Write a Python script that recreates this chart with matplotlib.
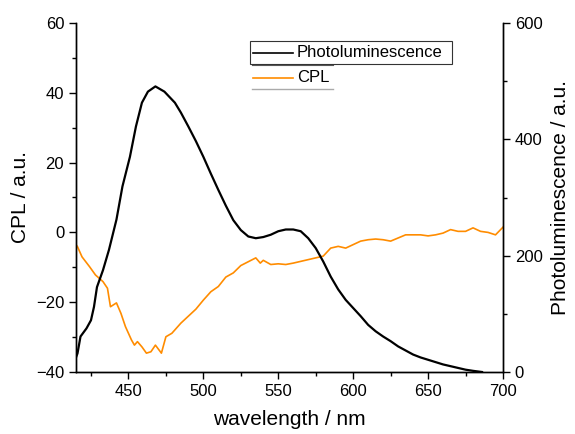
import matplotlib
matplotlib.use("Agg")
import matplotlib.pyplot as plt
from matplotlib.lines import Line2D
from matplotlib.patches import Rectangle
from matplotlib.ticker import MultipleLocator

plt.rcParams['font.family'] = ['Liberation Sans', 'DejaVu Sans']

# photoluminescence (right axis)
pl_wl = [415, 416, 418, 422, 425, 427, 429, 433, 437, 442, 446, 451, 455, 459,
         463, 468, 474, 481, 485, 490, 495, 500, 505, 510, 515, 520, 525,
         530, 535, 540, 545, 550, 555, 560, 565, 570, 575, 580, 585, 590, 595,
         600, 605, 610, 615, 620, 625, 630, 635, 640, 645, 650, 655, 660, 665,
         670, 675, 680, 686]
pl_val = [25, 32, 61, 75, 89, 112, 146, 175, 210, 262, 319, 370, 422, 463,
          482, 491, 482, 463, 446, 422, 397, 370, 341, 313, 286, 261, 244,
          233, 230, 232, 236, 242, 245, 245, 242, 230, 213, 190, 164, 142, 124,
          110, 96, 81, 70, 61, 53, 44, 37, 30, 25, 21, 17, 13, 10, 7, 4, 2, 0]

# CPL (left axis)
cpl_wl = [415, 416, 419, 424, 428, 433, 436, 438, 442, 445, 448, 452, 454,
          456, 459, 462, 465, 468, 472, 475, 479, 485, 490, 495, 500,
          505, 510, 515, 520, 525, 530, 535, 538, 540, 545, 550, 555, 560, 565,
          570, 575, 580, 585, 590, 595, 600, 605, 610, 615, 620, 625, 630, 635,
          640, 645, 650, 655, 660, 665, 670, 675, 680, 685, 690, 695, 700]
cpl_val = [-3.5, -4.1, -7.0, -9.8, -12.2, -14.1, -16.0, -21.3, -20.2, -23.2,
           -27.0, -30.8, -32.3, -31.3, -32.8, -34.6, -34.2, -32.3, -34.6,
           -29.9, -28.9, -26.0, -24.0, -22.0, -19.4,
           -17.0, -15.5, -12.8, -11.6, -9.5, -8.4, -7.3, -8.8, -8.0, -9.2,
           -9.0, -9.2, -8.8, -8.3, -7.8, -7.3, -6.8, -4.5, -4, -4.5, -3.5,
           -2.5, -2.1, -1.9, -2.1, -2.5, -1.6, -0.7, -0.7, -0.7, -1, -0.7,
           -0.2, 0.8, 0.3, 0.3, 1.3, 0.3, 0, -0.7, 1.5]

W, H = 575, 434
fig = plt.figure(figsize=(W / 100, H / 100), dpi=100)
ax = fig.add_axes([76 / W, 1 - 372 / H, (503 - 76) / W, (372 - 23) / H])
ax2 = ax.twinx()

ax.plot(cpl_wl, cpl_val, color='#ff8c00', lw=1.2)
ax2.plot(pl_wl, pl_val, color='black', lw=1.6)

ax.set_xlim(415, 700)
ax.set_ylim(-40, 60)
ax2.set_ylim(0, 600)

ax.xaxis.set_major_locator(MultipleLocator(50))
ax.xaxis.set_minor_locator(MultipleLocator(25))
ax.yaxis.set_major_locator(MultipleLocator(20))
ax.yaxis.set_minor_locator(MultipleLocator(10))
ax2.yaxis.set_major_locator(MultipleLocator(200))
ax2.yaxis.set_minor_locator(MultipleLocator(100))

for a in (ax, ax2):
    a.spines['top'].set_visible(False)
    for s in a.spines.values():
        s.set_linewidth(1.0)
    a.tick_params(which='major', direction='out', length=5, width=1.0,
                  labelsize=12)
    a.tick_params(which='minor', direction='out', length=3, width=1.0)

ax.set_xlabel('wavelength / nm', fontsize=15, labelpad=8)
ax.set_ylabel('CPL / a.u.', fontsize=15, labelpad=4)
ax2.set_ylabel('Photoluminescence / a.u.', fontsize=15, labelpad=6)

# legend drawn like the original (box around first entry only)
tf = fig.transFigure
def fx(px):
    return px / W
def fy(py):
    return 1 - py / H

fig.patches.append(Rectangle((fx(250), fy(64)), fx(452) - fx(250),
                             fy(41) - fy(64), transform=tf, fill=False,
                             edgecolor='#333333', lw=0.8))
fig.lines.append(Line2D([fx(253), fx(293)], [fy(52.5), fy(52.5)],
                        transform=tf, color='black', lw=1.2))
fig.text(fx(297), fy(52.5), 'Photoluminescence', transform=tf, fontsize=12,
         va='center', ha='left')
fig.lines.append(Line2D([fx(252), fx(333)], [fy(65), fy(65)],
                        transform=tf, color='#555555', lw=0.8))
fig.lines.append(Line2D([fx(253), fx(293)], [fy(78), fy(78)],
                        transform=tf, color='#ff8c00', lw=1.2))
fig.text(fx(297), fy(78), 'CPL', transform=tf, fontsize=12,
         va='center', ha='left')
fig.lines.append(Line2D([fx(252), fx(333)], [fy(89), fy(89)],
                        transform=tf, color='#aaaaaa', lw=1.0))

fig.savefig('out.png', dpi=100)
